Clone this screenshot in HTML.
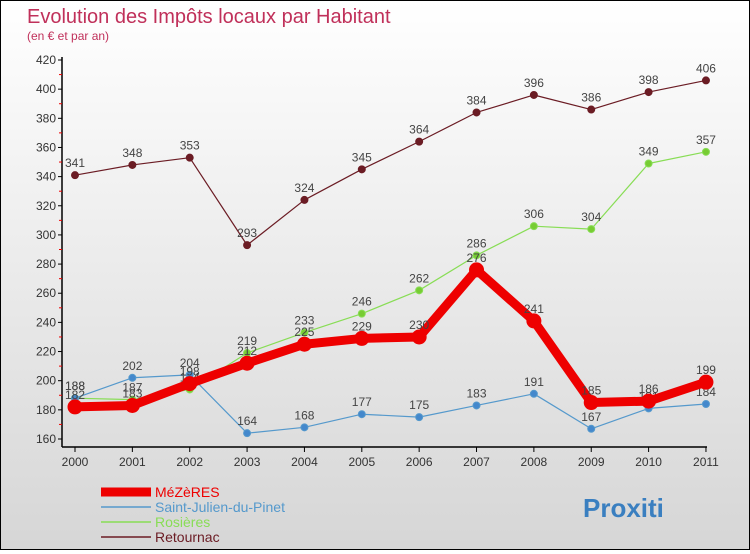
<!DOCTYPE html>
<html><head><meta charset="utf-8"><style>
html,body{margin:0;padding:0}
body{width:750px;height:550px;overflow:hidden;font-family:"Liberation Sans",sans-serif}
#c{position:relative;width:748px;height:548px;border:1px solid #000;background:linear-gradient(#ffffff,#d6d6d6)}
</style></head><body>
<div id="c">
<svg id="s" width="748" height="548">
<text x="26" y="22" font-size="20" fill="#c0305a">Evolution des Impôts locaux par Habitant</text>
<text x="26" y="39" font-size="12" fill="#c0305a">(en € et par an)</text>
</svg>
</div>
<script>
const years=[2000,2001,2002,2003,2004,2005,2006,2007,2008,2009,2010,2011];
const yTicks=[160,180,200,220,240,260,280,300,320,340,360,380,400,420];
const mezeres=[182,183,198,212,225,229,230,276,241,185,186,199];
const saintJulien=[188,202,204,164,168,177,175,183,191,167,181,184];
const rosieres=[188,187,194,219,233,246,262,286,306,304,349,357];
const retournac=[341,348,353,293,324,345,364,384,396,386,398,406];
const seriesNames=["MéZèRES","Saint-Julien-du-Pinet","Rosières","Retournac"];
const NS="http://www.w3.org/2000/svg";
const s=document.getElementById('s');
const X=i=>74+i*57.36;
const Y=v=>438-(v-160)*1.4577;
function el(t,a,p){const e=document.createElementNS(NS,t);for(const k in a)e.setAttribute(k,a[k]);(p||s).appendChild(e);return e;}
// axes
let ax=el('line',{x1:61,y1:56,x2:61,y2:446,stroke:'#000','stroke-width':1.5});


let bx=el('line',{x1:61,y1:446,x2:706,y2:446,stroke:'#000','stroke-width':1.5});


yTicks.forEach((v,i)=>{
 el('line',{x1:57,y1:Y(v),x2:61,y2:Y(v),stroke:'#000'});
 if(i<yTicks.length-1)el('line',{x1:58,y1:Y(v+10),x2:61,y2:Y(v+10),stroke:'#e00'});
 const t=el('text',{x:55,y:Y(v)+4,'font-size':12,fill:'#333','text-anchor':'end'});
 t.textContent=v;
 
 
});
years.forEach((y,i)=>{
 el('line',{x1:X(i),y1:446,x2:X(i),y2:451,stroke:'#000'});
 const t=el('text',{x:X(i),y:465,'font-size':12,fill:'#333','text-anchor':'middle'});
 t.textContent=y;
 
 
});
function series(data,color,w,r,fill,name){
 const g=el('g',{});
 
 
 el('polyline',{points:data.map((v,i)=>X(i)+','+Y(v)).join(' '),fill:'none',stroke:color,'stroke-width':w,'stroke-linejoin':'round'},g);
 data.forEach((v,i)=>{
  const c=el('circle',{cx:X(i),cy:Y(v),r:r,fill:fill,stroke:color,'stroke-width':1},g);
  
  
  const t=el('text',{x:X(i),y:Y(v)-8,'font-size':12,fill:'#444','text-anchor':'middle'},g);
  t.textContent=v;
  
  
 });
}
series(retournac,'#6b1c24',1.2,3.5,'#6b1c24','retournac-series');
series(rosieres,'#88dd55',1.2,3.5,'#77cc33','rosieres-series');
series(saintJulien,'#5599cc',1.2,3.5,'#4488cc','saint-julien-series');
series(mezeres,'#ee0000',9,7,'#ee0000','mezeres-series');
// legend
const lc=['#ee0000','#5599cc','#88dd55','#6b1c24'],lw=[9,1.5,1.5,1.5];
seriesNames.forEach((n,i)=>{
 const y=491+i*15;
 const g=el('g',{});
 
 
 el('line',{x1:100,y1:y,x2:150,y2:y,stroke:lc[i],'stroke-width':lw[i]},g);
 const t=el('text',{x:154,y:y+5,'font-size':14,fill:lc[i]==='#ee0000'?'#ee0000':lc[i]},g);
 t.textContent=n;
});
const lg=el('text',{x:582,y:516,'font-size':26,'font-weight':'bold',fill:'#3a7fc0'});
lg.textContent='Proxiti';


</script>
</body></html>
